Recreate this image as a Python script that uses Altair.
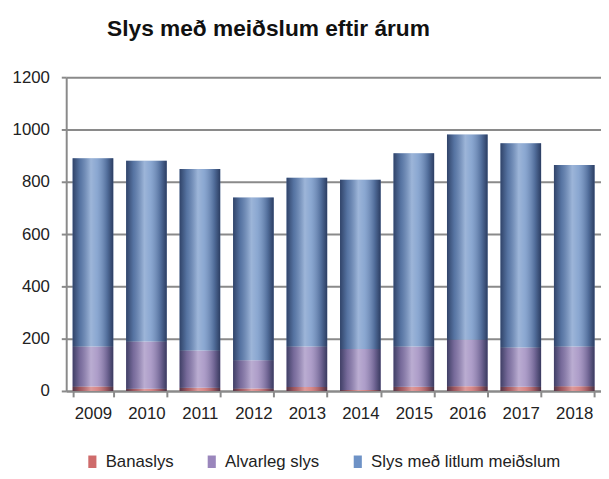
import altair as alt
import pandas as pd

years = ["2009", "2010", "2011", "2012", "2013", "2014", "2015", "2016", "2017", "2018"]
banaslys = [17, 8, 12, 9, 15, 4, 16, 18, 16, 18]
alvarleg = [153, 181, 143, 108, 155, 156, 154, 178, 150, 152]
litlum = [720, 691, 694, 623, 645, 648, 739, 785, 781, 694]

series_names = ["Banaslys", "Alvarleg slys", "Slys með litlum meiðslum"]
series_colors = ["#cf6b6b", "#9a86bc", "#6e92c6"]

rows = []
for i, y in enumerate(years):
    for k, (name, vals) in enumerate(zip(series_names, [banaslys, alvarleg, litlum])):
        rows.append({"year": y, "series": name, "value": vals[i], "ord": k})
df = pd.DataFrame(rows)

FONT = "Liberation Sans Narrow, Arial Narrow, Liberation Sans, Arial, sans-serif"

xenc = alt.X("year:O", title=None,
             scale=alt.Scale(paddingInner=0.24, paddingOuter=0.12),
             axis=alt.Axis(labelAngle=0, tickBand="extent", labelFontSize=17,
                           labelFont=FONT, labelColor="#222222", labelPadding=9,
                           tickSize=6, tickColor="#8a8a8a", tickWidth=2,
                           domainColor="#8a8a8a", domainWidth=2, grid=False))

bars = alt.Chart(df).mark_bar().encode(
    x=xenc,
    y=alt.Y("value:Q", stack="zero", title=None,
            scale=alt.Scale(domain=[0, 1200], nice=False),
            axis=alt.Axis(values=[0, 200, 400, 600, 800, 1000, 1200], format="d",
                          labelFontSize=17, labelFont=FONT, labelColor="#222222",
                          labelPadding=12, tickSize=5, tickColor="#8a8a8a", tickWidth=2,
                          domainColor="#8a8a8a", domainWidth=2,
                          gridColor="#8a8a8a", gridWidth=2)),
    color=alt.Color("series:N", title=None,
                    scale=alt.Scale(domain=series_names, range=series_colors),
                    legend=alt.Legend(orient="none", legendX=18, legendY=381,
                                      direction="horizontal", labelFont=FONT,
                                      labelFontSize=17, labelColor="#222222",
                                      labelLimit=400,
                                      symbolType="M-0.65,-1H0.65V1H-0.65Z",
                                      symbolSize=160, symbolStrokeWidth=0,
                                      labelOffset=5, columnPadding=30, padding=0)),
    order=alt.Order("ord:Q", sort="ascending"),
)

shade = alt.Gradient(
    gradient="linear", x1=0, x2=1, y1=0, y2=0,
    stops=[
        alt.GradientStop(offset=0, color="rgba(15,25,55,0.65)"),
        alt.GradientStop(offset=0.18, color="rgba(15,25,55,0.25)"),
        alt.GradientStop(offset=0.45, color="rgba(255,255,255,0.32)"),
        alt.GradientStop(offset=0.6, color="rgba(255,255,255,0.2)"),
        alt.GradientStop(offset=0.85, color="rgba(15,25,55,0.3)"),
        alt.GradientStop(offset=1, color="rgba(15,25,55,0.7)"),
    ],
)

overlay = alt.Chart(df).mark_bar(fill=shade).encode(
    x=alt.X("year:O"),
    y=alt.Y("sum(value):Q"),
)

chart = alt.layer(bars, overlay).properties(
    width=542, height=318,
    title=alt.TitleParams("Slys með meiðslum eftir árum", font=FONT, fontSize=23,
                          fontWeight="bold", color="#111111", anchor="middle",
                          dx=-66, offset=28),
    autosize=alt.AutoSizeParams(type="none"),
    padding={"left": 59, "top": 67, "right": 0, "bottom": 78},
).configure_view(stroke=None)

chart.save("out.html", embed_options={"renderer": "svg", "actions": False})
